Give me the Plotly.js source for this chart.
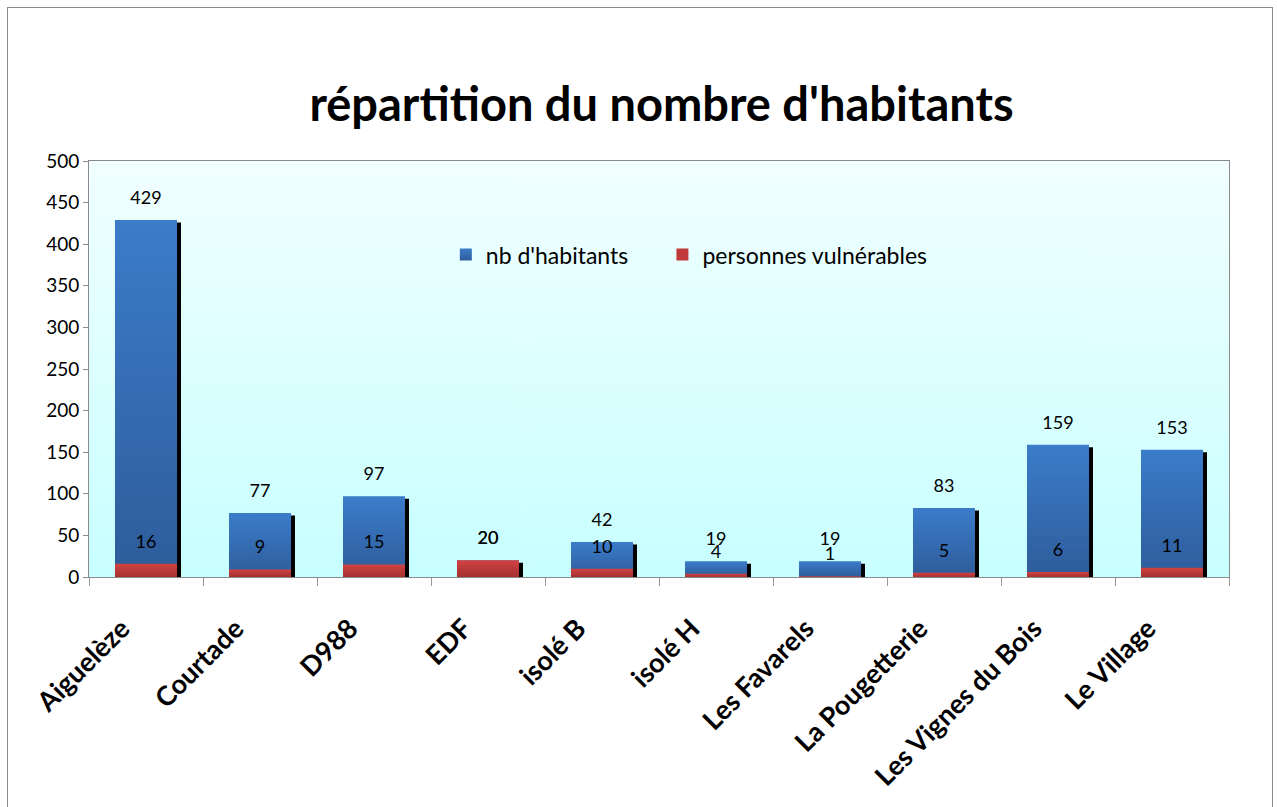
<!DOCTYPE html>
<html>
<head>
<meta charset="utf-8">
<script src="https://cdn.plot.ly/plotly-3.0.1.min.js"></script>
<style>
  html, body { margin: 0; padding: 0; background: #ffffff; overflow: hidden; }
  #frame { position: absolute; left: 7px; top: 7px; width: 1266px; height: 830px; border: 1px solid #8c8c8c; box-sizing: border-box; }
  #chart { position: absolute; left: 0; top: 0; width: 1277px; height: 807px; }
</style>
</head>
<body>
<div id="frame"></div>
<div id="chart"></div>
<svg width="0" height="0" style="position:absolute">
  <defs>
    <linearGradient id="gBlue" x1="0" y1="0" x2="0" y2="1">
      <stop offset="0" stop-color="#3b7cca"/>
      <stop offset="1" stop-color="#2e5c9a"/>
    </linearGradient>
    <linearGradient id="gRed" x1="0" y1="0" x2="0" y2="1">
      <stop offset="0" stop-color="#d14242"/>
      <stop offset="1" stop-color="#a53131"/>
    </linearGradient>
  </defs>
</svg>
<script>
const categories = ["Aiguelèze", "Courtade", "D988", "EDF", "isolé B", "isolé H", "Les Favarels", "La Pougetterie", "Les Vignes du Bois", "Le Village"];
const habitants = [429, 77, 97, 20, 42, 19, 19, 83, 159, 153];
const vulnerables = [16, 9, 15, 20, 10, 4, 1, 5, 6, 11];
const yTicks = [0, 50, 100, 150, 200, 250, 300, 350, 400, 450, 500];

// background gradient for the plot area
const cv = document.createElement('canvas');
cv.width = 4; cv.height = 256;
const ctx = cv.getContext('2d');
const g = ctx.createLinearGradient(0, 0, 0, 256);
g.addColorStop(0, '#f2ffff');
g.addColorStop(1, '#c8ffff');
ctx.fillStyle = g;
ctx.fillRect(0, 0, 4, 256);
const bgURL = cv.toDataURL();

const barW = 0.544;
const font = "Lato, 'Liberation Sans', sans-serif";

const shadow = {
  type: 'bar', x: categories, y: habitants, base: -3,
  width: barW, offset: -barW / 2 + 0.035,
  marker: { color: '#000000' }, showlegend: false, hoverinfo: 'skip'
};
const blue = {
  type: 'bar', name: "nb d'habitants", x: categories, y: habitants,
  width: barW, offset: -barW / 2,
  marker: { color: '#3670b8' }, legend: 'legend'
};
const red = {
  type: 'bar', name: 'personnes vulnérables', x: categories, y: vulnerables,
  width: barW, offset: -barW / 2,
  marker: { color: '#c03a3a' }, legend: 'legend2'
};
const labelStyle = { family: font, size: 18, color: '#000000' };
const blueLabels = {
  type: 'scatter', mode: 'markers+text', x: categories, y: habitants,
  text: habitants.map(String), textposition: 'top center', textfont: labelStyle,
  marker: { size: 17, opacity: 0 }, showlegend: false, cliponaxis: false, hoverinfo: 'skip'
};
const redLabels = {
  type: 'scatter', mode: 'markers+text', x: categories, y: vulnerables,
  text: vulnerables.map(String), textposition: 'top center', textfont: labelStyle,
  marker: { size: 17, opacity: 0 }, showlegend: false, cliponaxis: false, hoverinfo: 'skip'
};

const legendBase = {
  orientation: 'h', xanchor: 'left', y: 0.775, yanchor: 'middle',
  bgcolor: 'rgba(0,0,0,0)', font: { family: font, size: 23, color: '#000000' },
  itemwidth: 30
};

const layout = {
  width: 1277, height: 807,
  margin: { l: 89, r: 48, t: 161, b: 230, pad: 0 },
  paper_bgcolor: 'rgba(0,0,0,0)',
  plot_bgcolor: 'rgba(0,0,0,0)',
  barmode: 'overlay',
  font: { family: font, color: '#000000' },
  title: {
    text: "<b>répartition du nombre d'habitants</b>",
    font: { family: font, size: 47, color: '#000000' },
    x: 0.518, xanchor: 'center', y: 0.87, yanchor: 'middle'
  },
  xaxis: {
    type: 'category', tickson: 'boundaries', ticks: 'outside', ticklen: 8, tickcolor: '#999999',
    tickangle: -45, tickfont: { family: font, size: 27, color: '#000000', weight: 'bold' },
    ticklabelstandoff: 24, ticklabelshift: -24,
    showline: true, linecolor: '#8a8a8a', linewidth: 1, mirror: true, showgrid: false,
    range: [-0.5, 9.5], fixedrange: true
  },
  yaxis: {
    range: [0, 500], tickvals: yTicks, ticktext: yTicks.map(String),
    ticks: 'outside', ticklen: 5, tickcolor: '#8a8a8a',
    tickfont: { family: font, size: 19, color: '#000000' },
    showline: true, linecolor: '#8a8a8a', linewidth: 1, mirror: true,
    showgrid: false, zeroline: false, fixedrange: true
  },
  legend: Object.assign({}, legendBase, { x: 0.313 }),
  legend2: Object.assign({}, legendBase, { x: 0.503 }),
  images: [{
    source: bgURL, xref: 'paper', yref: 'paper', x: 0, y: 1, sizex: 1, sizey: 1,
    sizing: 'stretch', layer: 'below', xanchor: 'left', yanchor: 'top'
  }],
  showlegend: true
};

function applyGradients() {
  const traces = document.querySelectorAll('#chart .barlayer .trace');
  traces.forEach((tr, i) => {
    const id = i === 1 ? 'gBlue' : (i === 2 ? 'gRed' : null);
    if (!id) return;
    tr.querySelectorAll('path').forEach(p => { p.style.fill = 'url(#' + id + ')'; });
  });
  const legs = document.querySelectorAll('#chart .legend');
  legs.forEach(l => {
    l.querySelectorAll('.traces').forEach(tr => {
      const txt = tr.querySelector('.legendtext');
      const id = txt && txt.textContent.indexOf('personnes') === 0 ? 'gRed' : 'gBlue';
      tr.querySelectorAll('.legendpoints path').forEach(p => { p.style.fill = 'url(#' + id + ')'; });
    });
  });
}

Plotly.newPlot('chart', [shadow, blue, red, blueLabels, redLabels], layout, { displayModeBar: false, staticPlot: true })
  .then(applyGradients);
</script>
</body>
</html>
